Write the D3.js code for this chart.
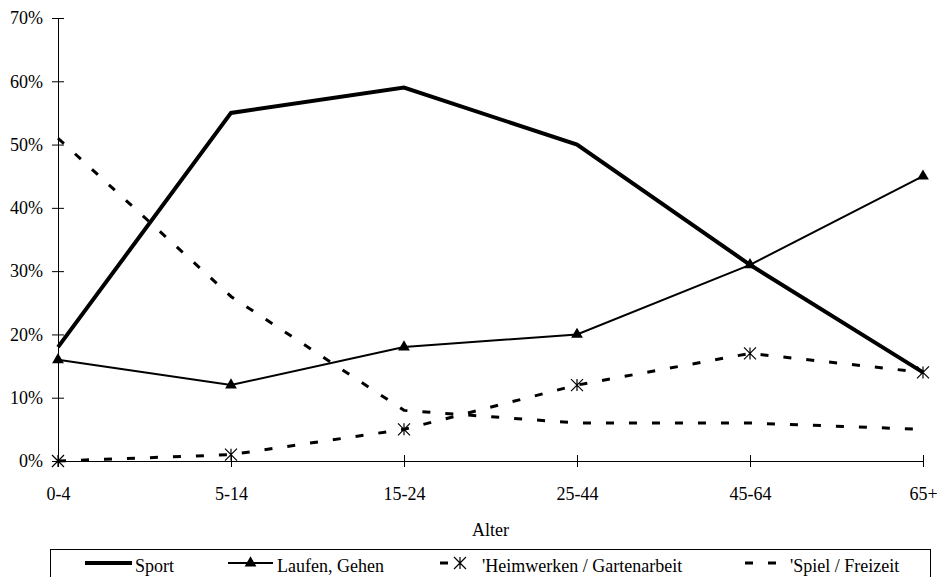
<!DOCTYPE html>
<html>
<head>
<meta charset="utf-8">
<script src="https://cdn.jsdelivr.net/npm/d3@7"></script>
<style>
  body { margin: 0; background: #fff; }
  svg { display: block; font-family: "Liberation Serif", "Times New Roman", serif; }
</style>
</head>
<body>
<svg id="chart" width="937" height="577"></svg>
<script>
// data (share of injuries by age group)
const ageGroups = ["0-4", "5-14", "15-24", "25-44", "45-64", "65+"];
const sport      = [0.18, 0.55, 0.59, 0.50, 0.31, 0.14];
const laufen     = [0.16, 0.12, 0.18, 0.20, 0.31, 0.45];
const heimwerken = [0.00, 0.01, 0.05, 0.12, 0.17, 0.14];
const spiel      = [0.51, 0.26, 0.08, 0.06, 0.06, 0.05];
const yTicks = [0, 0.1, 0.2, 0.3, 0.4, 0.5, 0.6, 0.7];

const svg = d3.select("#chart");

const x = d3.scalePoint().domain(ageGroups).range([58, 923]);
const y = d3.scaleLinear().domain([0, 0.7]).range([461, 18]);

// y axis, ticks cross the line
const yAxis = svg.append("g")
  .attr("transform", "translate(58,0)")
  .call(d3.axisLeft(y).tickValues(yTicks).tickFormat(d3.format(".0%"))
    .tickSizeInner(6).tickSizeOuter(0).tickPadding(9));
yAxis.selectAll(".tick line").attr("x1", 6);

// x axis
const xAxis = svg.append("g")
  .attr("transform", "translate(0,461)")
  .call(d3.axisBottom(x).tickSizeInner(6).tickSizeOuter(0).tickPadding(20));
xAxis.selectAll(".tick line").attr("y1", -6);

svg.selectAll(".tick text")
  .style("font-size", "18px")
  .style("font-family", "'Liberation Serif', 'Times New Roman', serif")
  .attr("fill", "#000");
svg.selectAll(".domain, .tick line").attr("stroke", "#000");

svg.append("text")
  .attr("x", (58 + 923) / 2)
  .attr("y", 536)
  .attr("text-anchor", "middle")
  .style("font-size", "18px")
  .text("Alter");

const series = [
  { name: "Sport", values: sport, width: 4, dash: null, marker: null },
  { name: "Laufen, Gehen", values: laufen, width: 2, dash: null, marker: "triangle" },
  { name: "'Heimwerken / Gartenarbeit", values: heimwerken, width: 3, dash: "8,15", marker: "asterisk" },
  { name: "'Spiel / Freizeit", values: spiel, width: 3, dash: "8,15", marker: null }
];

const line = d3.line()
  .x((d, i) => x(ageGroups[i]))
  .y(d => y(d));

const tri = d3.symbol().type(d3.symbolTriangle).size(60);

function drawMarker(g, type, cx, cy) {
  if (type === "triangle") {
    g.append("path")
      .attr("d", tri())
      .attr("transform", `translate(${cx},${cy})`)
      .attr("fill", "#000");
  } else if (type === "asterisk") {
    const r = 6;
    g.append("path")
      .attr("d", `M${cx - r},${cy - r}L${cx + r},${cy + r}M${cx - r},${cy + r}L${cx + r},${cy - r}M${cx},${cy - r}L${cx},${cy + r}`)
      .attr("stroke", "#000")
      .attr("stroke-width", 1.2)
      .attr("fill", "none");
  }
}

// lines drawn back to front
const plot = svg.append("g");
series.slice().reverse().forEach(s => {
  plot.append("path")
    .attr("d", line(s.values))
    .attr("fill", "none")
    .attr("stroke", "#000")
    .attr("stroke-width", s.width)
    .attr("stroke-linejoin", "miter")
    .attr("stroke-dasharray", s.dash);
  if (s.marker) {
    s.values.forEach((v, i) => drawMarker(plot, s.marker, x(ageGroups[i]), y(v)));
  }
});

// legend
const legend = svg.append("g");
legend.append("rect")
  .attr("x", 50.5).attr("y", 549.5)
  .attr("width", 880).attr("height", 40)
  .attr("fill", "#fff").attr("stroke", "#000").attr("stroke-width", 1);

const legendPos = [
  { x1: 85, x2: 132, tx: 135 },
  { x1: 228, x2: 273, tx: 277 },
  { x1: 440, x2: 448, tx: 482, mx: 460 },
  { x1: 745, x2: 785, tx: 790 }
];
const ly = 563;
series.forEach((s, i) => {
  const p = legendPos[i];
  legend.append("line")
    .attr("x1", p.x1).attr("x2", p.x2)
    .attr("y1", ly).attr("y2", ly)
    .attr("stroke", "#000")
    .attr("stroke-width", s.width)
    .attr("stroke-dasharray", s.dash);
  if (s.marker) drawMarker(legend, s.marker, p.mx || (p.x1 + p.x2) / 2, ly);
  legend.append("text")
    .attr("x", p.tx).attr("y", 572)
    .style("font-size", "18px")
    .text(s.name);
});
</script>
</body>
</html>
